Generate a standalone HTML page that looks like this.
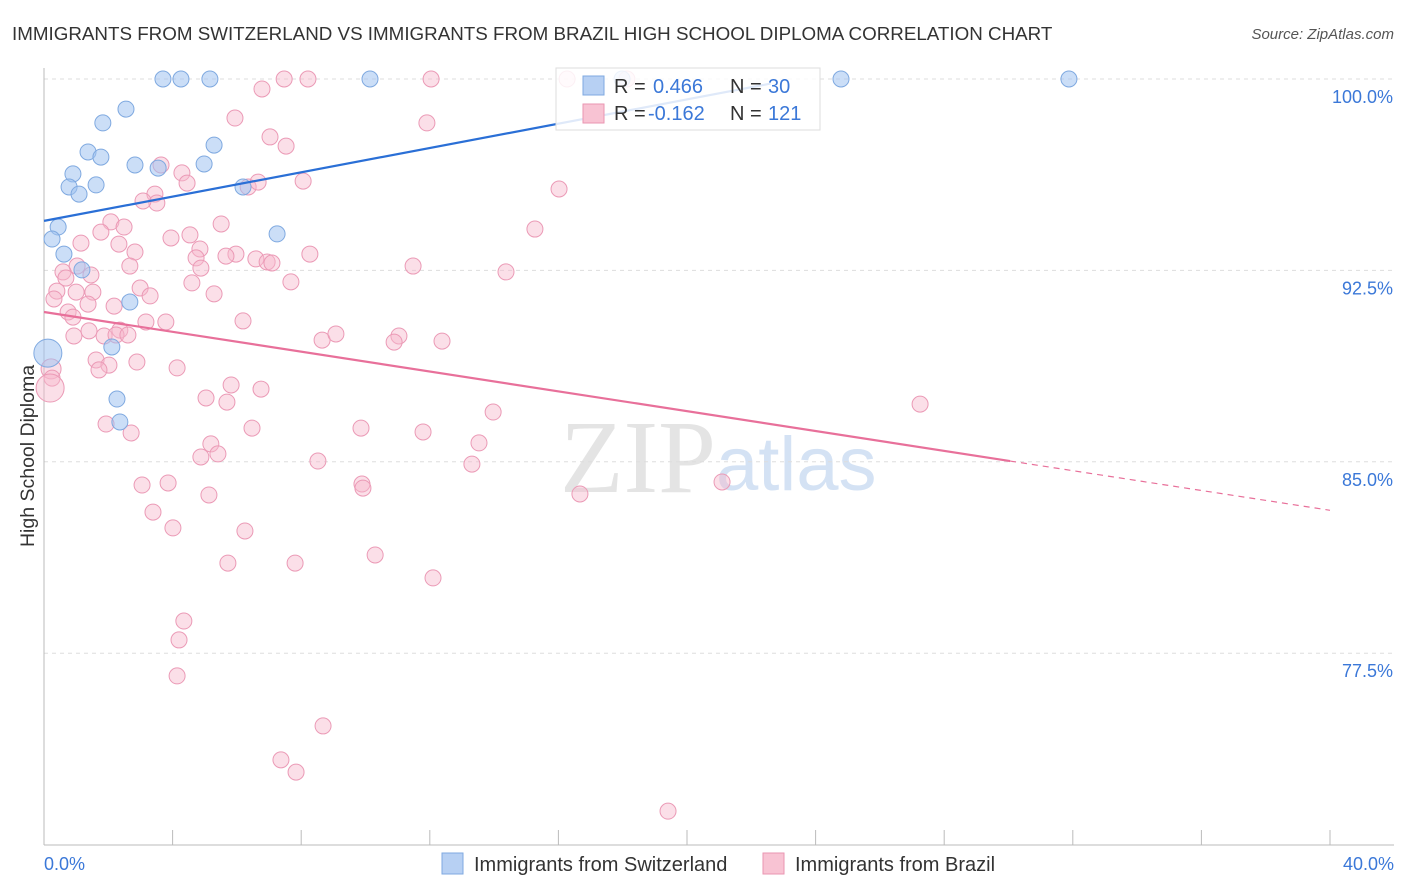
<!DOCTYPE html>
<html><head><meta charset="utf-8">
<style>
body{margin:0;background:#fff;font-family:"Liberation Sans",sans-serif;}
#wrap{position:relative;width:1406px;height:892px;overflow:hidden;}
</style></head>
<body>
<div id="wrap">
<svg id="svg" width="1406" height="892" xmlns="http://www.w3.org/2000/svg">
<text x="12" y="40" font-size="18.8" fill="#333">IMMIGRANTS FROM SWITZERLAND VS IMMIGRANTS FROM BRAZIL HIGH SCHOOL DIPLOMA CORRELATION CHART</text>
<text x="1394" y="39" font-size="15" fill="#555" font-style="italic" text-anchor="end">Source: ZipAtlas.com</text>
<text x="716" y="492" font-size="104" fill="#e4e4e4" font-family="Liberation Serif,serif" text-anchor="end">ZIP</text>
<text x="716" y="490" font-size="76" fill="#d4e2f4" text-anchor="start">atlas</text>
<g id="grid"></g>
<g id="axes"></g>
<g id="pts"></g>
<g id="lines"></g>
<text transform="translate(34,456) rotate(-90)" font-size="19.5" fill="#333" text-anchor="middle">High School Diploma</text>
<g>
<rect x="556" y="68" width="264" height="62" fill="rgba(255,255,255,0.85)" stroke="#ddd"/>
<rect x="583" y="76" width="21" height="19" fill="#b7d0f3" stroke="#7fa9e0"/>
<rect x="583" y="104" width="21" height="19" fill="#f8c3d3" stroke="#ea96b2"/>
<text x="614" y="93" font-size="20" fill="#333">R = <tspan fill="#3b78d8" x="653">0.466</tspan><tspan x="730" fill="#333">N =</tspan><tspan x="768" fill="#3b78d8">30</tspan></text>
<text x="614" y="120" font-size="20" fill="#333">R = <tspan fill="#3b78d8" x="648">-0.162</tspan><tspan x="730" fill="#333">N =</tspan><tspan x="768" fill="#3b78d8">121</tspan></text>
</g>
<g>
<rect x="442" y="853" width="21" height="21" fill="#b7d0f3" stroke="#7fa9e0"/>
<text x="474" y="871" font-size="20" fill="#333">Immigrants from Switzerland</text>
<rect x="763" y="853" width="21" height="21" fill="#f8c3d3" stroke="#ea96b2"/>
<text x="795" y="871" font-size="20" fill="#333">Immigrants from Brazil</text>
</g>
</svg>
</div>
<script>
const yTicks=[100,92.5,85,77.5];
const yTickLabels=["100.0%","92.5%","85.0%","77.5%"];
const xTicks=[0,4,8,12,16,20,24,28,32,36,40];
const blueX=[3.70,4.26,5.16,10.14,17.98,24.79,31.88,2.55,1.83,1.37,1.77,2.83,3.55,4.98,5.29,0.90,0.78,1.62,1.09,6.19,0.44,0.25,0.62,1.18,7.25,2.67,2.11,2.27,2.36,0.12];
const blueY=[100,100,100,100,100,100,100,98.82,98.28,97.14,96.94,96.63,96.51,96.67,97.41,96.28,95.77,95.85,95.49,95.77,94.20,93.73,93.14,92.52,93.93,91.26,89.50,87.46,86.56,89.26];
const blueR=[8,8,8,8,8,8,8,8,8,8,8,8,8,8,8,8,8,8,8,8,8,8,8,8,8,8,8,8,8,14];
const pinkX=[16.27,18.13,7.47,8.21,12.04,6.78,5.94,11.91,7.03,7.53,3.64,4.29,4.45,3.45,3.51,3.08,6.35,6.66,8.06,16.02,2.08,2.49,1.77,5.51,15.27,1.15,2.33,2.83,3.95,4.54,4.85,5.97,4.73,5.66,6.59,6.94,7.09,8.27,2.67,4.88,1.03,0.59,0.68,1.46,11.48,14.37,7.68,2.99,4.60,5.29,3.30,0.40,0.31,1.00,1.52,1.37,2.18,0.75,0.90,3.79,3.17,6.19,1.40,2.36,0.93,1.87,2.24,2.61,8.65,9.08,11.04,10.89,12.38,1.62,2.02,2.89,4.14,1.71,0.22,0.25,0.19,5.82,6.75,5.04,5.69,13.97,27.25,1.93,2.71,6.47,9.86,11.79,5.19,5.41,4.88,13.53,8.52,13.31,3.05,3.86,5.13,9.89,9.92,16.67,21.09,3.39,4.01,6.25,10.30,5.72,7.81,12.10,4.35,4.20,4.14,8.68,7.37,7.84,19.41];
const pinkY=[100,100,100,100,100,99.61,98.47,98.28,97.73,97.37,96.63,96.32,95.92,95.49,95.14,95.22,95.77,95.96,96.00,95.69,94.40,94.20,94.00,94.32,94.12,93.57,93.53,93.22,93.77,93.89,93.34,93.14,92.99,93.06,92.95,92.83,92.79,93.14,92.67,92.59,92.67,92.44,92.20,92.32,92.67,92.44,92.05,91.81,92.01,91.58,91.50,91.69,91.38,91.65,91.65,91.18,91.10,90.87,90.67,90.48,90.48,90.52,90.13,90.16,89.93,89.93,89.97,89.97,89.77,90.01,89.93,89.69,89.73,88.99,88.79,88.91,88.68,88.60,88.64,88.28,87.89,88.01,87.85,87.50,87.34,86.95,87.26,86.48,86.13,86.32,86.32,86.17,85.70,85.31,85.19,85.74,85.03,84.91,84.09,84.17,83.70,84.13,83.97,83.74,84.21,83.03,82.41,82.29,81.35,81.03,81.03,80.45,78.76,78.02,76.61,74.65,73.32,72.84,71.31];
const blueTrend=[[0,94.44],[22.6,99.82]];
const pinkTrend=[[0,90.87],[30.05,85.03]];
const pinkTrendDash=[[30.05,85.03],[40,83.10]];
const X0=44,X1=1330,YT=79,PXPER=25.52;
const sx=v=>X0+(v/40)*(X1-X0);
const sy=v=>YT+(100-v)*PXPER;
const NS="http://www.w3.org/2000/svg";
function mk(tag,attrs,parent){const e=document.createElementNS(NS,tag);for(const k in attrs)e.setAttribute(k,attrs[k]);document.getElementById(parent).appendChild(e);return e;}
yTicks.forEach((t,i)=>{
 const l=mk('line',{x1:X0,x2:1394,y1:sy(t),y2:sy(t),stroke:'#ddd','stroke-dasharray':'4,4'},'grid');
 
 
 const tx=mk('text',{x:1393,y:sy(t)+24,'font-size':18,fill:'#3b78d8','text-anchor':'end'},'grid');
 tx.textContent=yTickLabels[i];
 
 
});
const ax=mk('line',{x1:X0,x2:X0,y1:68,y2:845,stroke:'#bbb'},'axes');


const bx=mk('line',{x1:X0,x2:1394,y1:845,y2:845,stroke:'#bbb'},'axes');


xTicks.forEach(t=>{
 const l=mk('line',{x1:sx(t),x2:sx(t),y1:830,y2:845,stroke:'#bbb'},'axes');
 
 
});
[[0,"0.0%","start",44],[40,"40.0%","end",1394]].forEach(a=>{
 const t=mk('text',{x:a[3],y:870,'font-size':18,fill:'#3b78d8','text-anchor':a[2]},'axes');
 t.textContent=a[1];
 
 
});
pinkX.forEach((v,i)=>{
 const r=(i===80)?14:(i===78?10:8);
 const c=mk('circle',{cx:sx(v),cy:sy(pinkY[i]),r:r,fill:'rgba(246,185,205,0.45)',stroke:'#eb9ab6','stroke-width':1},'pts');
 
 
});
blueX.forEach((v,i)=>{
 const c=mk('circle',{cx:sx(v),cy:sy(blueY[i]),r:blueR[i],fill:'rgba(160,195,240,0.55)',stroke:'#7fa9e0','stroke-width':1},'pts');
 
 
});
const bl=mk('line',{x1:sx(blueTrend[0][0]),y1:sy(blueTrend[0][1]),x2:sx(blueTrend[1][0]),y2:sy(blueTrend[1][1]),stroke:'#2a6fd6','stroke-width':2.2},'lines');


const pl=mk('line',{x1:sx(pinkTrend[0][0]),y1:sy(pinkTrend[0][1]),x2:sx(pinkTrend[1][0]),y2:sy(pinkTrend[1][1]),stroke:'#e8709a','stroke-width':2.2},'lines');


const pd=mk('line',{x1:sx(pinkTrendDash[0][0]),y1:sy(pinkTrendDash[0][1]),x2:sx(pinkTrendDash[1][0]),y2:sy(pinkTrendDash[1][1]),stroke:'#e8709a','stroke-width':1.2,'stroke-dasharray':'6,5'},'lines');


</script>
</body></html>
